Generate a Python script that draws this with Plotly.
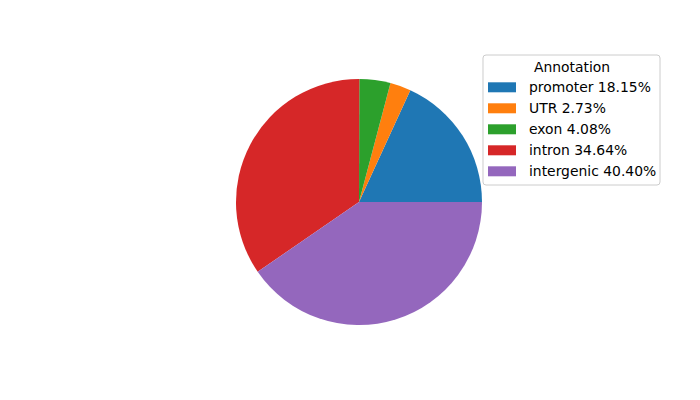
import plotly.graph_objects as go

categories = ["promoter", "UTR", "exon", "intron", "intergenic"]
percentages = [18.15, 2.73, 4.08, 34.64, 40.40]
colors = ["#1f77b4", "#ff7f0e", "#2ca02c", "#d62728", "#9467bd"]
legend_title = "Annotation"

W, H = 700, 400
OFF = 8  # page body margin offset
cx, cy, r = 359, 202, 123

def px(x):
    return (x - OFF) / W

def py(y):
    return 1 - (y - OFF) / H

# plotly places the first slice clockwise of `rotation` when direction is counterclockwise,
# so shift so that the first slice starts at 3 o'clock like matplotlib
first_angle = 360 * percentages[0] / sum(percentages)

fig = go.Figure(go.Pie(
    labels=categories,
    values=percentages,
    marker=dict(colors=colors, line=dict(width=0)),
    sort=False,
    direction="counterclockwise",
    rotation=90 - first_angle,
    textinfo="none",
    hoverinfo="label+percent",
    showlegend=False,
    domain=dict(x=[px(cx - r), px(cx + r)], y=[py(cy + r), py(cy - r)]),
))

# Custom legend (matplotlib style)
bx0, bx1, by0, by1, rr = 483, 660, 55, 185, 3
path = (f"M {bx0+rr},{by0} L {bx1-rr},{by0} Q {bx1},{by0} {bx1},{by0+rr} "
        f"L {bx1},{by1-rr} Q {bx1},{by1} {bx1-rr},{by1} L {bx0+rr},{by1} "
        f"Q {bx0},{by1} {bx0},{by1-rr} L {bx0},{by0+rr} Q {bx0},{by0} {bx0+rr},{by0} Z")

def conv_path(p):
    out = []
    for t in p.split():
        if "," in t:
            a, b = t.split(",")
            out.append(f"{px(float(a)):.5f},{py(float(b)):.5f}")
        else:
            out.append(t)
    return " ".join(out)

shapes = [dict(type="path", xref="paper", yref="paper", path=conv_path(path),
               fillcolor="rgba(255,255,255,0.8)", line=dict(color="#cccccc", width=1))]
annotations = [dict(x=px((bx0 + bx1) / 2), y=py(67), xref="paper", yref="paper",
                    text=legend_title, showarrow=False, xanchor="center", yanchor="middle",
                    font=dict(family="DejaVu Sans", size=13.9, color="black"))]
row0, step = 87.3, 21
for i, (c, p, col) in enumerate(zip(categories, percentages, colors)):
    yc = row0 + i * step
    shapes.append(dict(type="rect", xref="paper", yref="paper",
                       x0=px(488), x1=px(516), y0=py(yc - 5), y1=py(yc + 5),
                       fillcolor=col, line=dict(width=0)))
    annotations.append(dict(x=px(527), y=py(yc), xref="paper", yref="paper",
                            text=f"{c} {p:.2f}%", showarrow=False,
                            xanchor="left", yanchor="middle",
                            font=dict(family="DejaVu Sans", size=13.9, color="black")))

fig.update_layout(
    width=W, height=H,
    margin=dict(l=0, r=0, t=0, b=0),
    paper_bgcolor="white", plot_bgcolor="white",
    shapes=shapes, annotations=annotations,
    font=dict(family="DejaVu Sans"),
)
fig.write_html("out.html")
